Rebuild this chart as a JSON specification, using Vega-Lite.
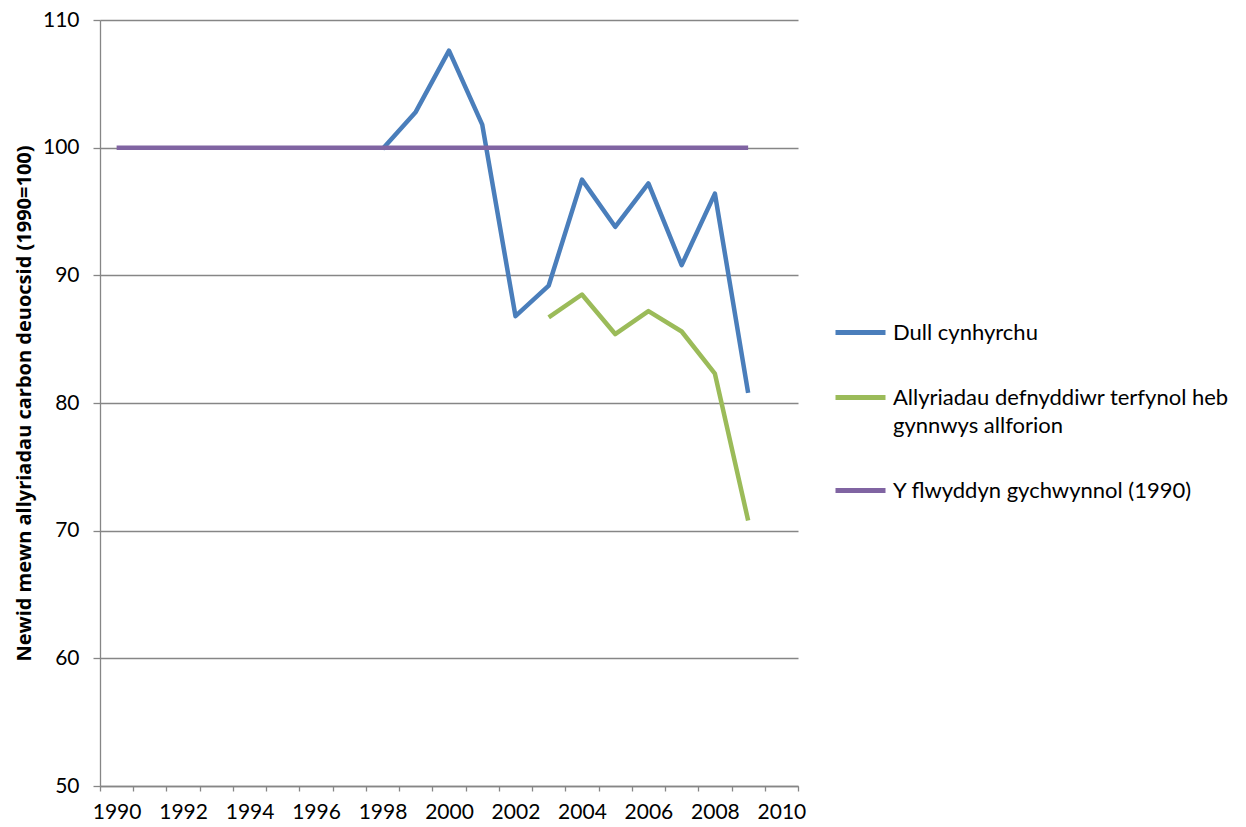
{
  "$schema": "https://vega.github.io/schema/vega-lite/v6.json",
  "width": 698,
  "height": 766,
  "autosize": {"type": "none"},
  "padding": {"left": 100, "top": 20, "right": 448, "bottom": 41},
  "background": "white",
  "config": {"view": {"stroke": null}, "font": "Lato", "style": {"guide-label": {"lineHeight": 28}}},
  "data": {
    "values": [
      {"year": 1998, "series": "Dull cynhyrchu", "value": 99.9},
      {"year": 1999, "series": "Dull cynhyrchu", "value": 102.8},
      {"year": 2000, "series": "Dull cynhyrchu", "value": 107.6},
      {"year": 2001, "series": "Dull cynhyrchu", "value": 101.8},
      {"year": 2002, "series": "Dull cynhyrchu", "value": 86.8},
      {"year": 2003, "series": "Dull cynhyrchu", "value": 89.2},
      {"year": 2004, "series": "Dull cynhyrchu", "value": 97.5},
      {"year": 2005, "series": "Dull cynhyrchu", "value": 93.8},
      {"year": 2006, "series": "Dull cynhyrchu", "value": 97.2},
      {"year": 2007, "series": "Dull cynhyrchu", "value": 90.8},
      {"year": 2008, "series": "Dull cynhyrchu", "value": 96.4},
      {"year": 2009, "series": "Dull cynhyrchu", "value": 80.8},
      {"year": 2003, "series": "Allyriadau defnyddiwr terfynol heb gynnwys allforion", "value": 86.7},
      {"year": 2004, "series": "Allyriadau defnyddiwr terfynol heb gynnwys allforion", "value": 88.5},
      {"year": 2005, "series": "Allyriadau defnyddiwr terfynol heb gynnwys allforion", "value": 85.4},
      {"year": 2006, "series": "Allyriadau defnyddiwr terfynol heb gynnwys allforion", "value": 87.2},
      {"year": 2007, "series": "Allyriadau defnyddiwr terfynol heb gynnwys allforion", "value": 85.6},
      {"year": 2008, "series": "Allyriadau defnyddiwr terfynol heb gynnwys allforion", "value": 82.3},
      {"year": 2009, "series": "Allyriadau defnyddiwr terfynol heb gynnwys allforion", "value": 70.8},
      {"year": 1990, "series": "Y flwyddyn gychwynnol (1990)", "value": 100},
      {"year": 1991, "series": "Y flwyddyn gychwynnol (1990)", "value": 100},
      {"year": 1992, "series": "Y flwyddyn gychwynnol (1990)", "value": 100},
      {"year": 1993, "series": "Y flwyddyn gychwynnol (1990)", "value": 100},
      {"year": 1994, "series": "Y flwyddyn gychwynnol (1990)", "value": 100},
      {"year": 1995, "series": "Y flwyddyn gychwynnol (1990)", "value": 100},
      {"year": 1996, "series": "Y flwyddyn gychwynnol (1990)", "value": 100},
      {"year": 1997, "series": "Y flwyddyn gychwynnol (1990)", "value": 100},
      {"year": 1998, "series": "Y flwyddyn gychwynnol (1990)", "value": 100},
      {"year": 1999, "series": "Y flwyddyn gychwynnol (1990)", "value": 100},
      {"year": 2000, "series": "Y flwyddyn gychwynnol (1990)", "value": 100},
      {"year": 2001, "series": "Y flwyddyn gychwynnol (1990)", "value": 100},
      {"year": 2002, "series": "Y flwyddyn gychwynnol (1990)", "value": 100},
      {"year": 2003, "series": "Y flwyddyn gychwynnol (1990)", "value": 100},
      {"year": 2004, "series": "Y flwyddyn gychwynnol (1990)", "value": 100},
      {"year": 2005, "series": "Y flwyddyn gychwynnol (1990)", "value": 100},
      {"year": 2006, "series": "Y flwyddyn gychwynnol (1990)", "value": 100},
      {"year": 2007, "series": "Y flwyddyn gychwynnol (1990)", "value": 100},
      {"year": 2008, "series": "Y flwyddyn gychwynnol (1990)", "value": 100},
      {"year": 2009, "series": "Y flwyddyn gychwynnol (1990)", "value": 100}
    ]
  },
  "mark": {"type": "line", "strokeWidth": 4.5, "strokeJoin": "round"},
  "encoding": {
    "x": {
      "field": "year",
      "type": "quantitative",
      "scale": {"domain": [1989.5, 2010.5], "nice": false, "zero": false},
      "axis": {
        "title": null,
        "grid": false,
        "values": [1989.5, 1990, 1990.5, 1991, 1991.5, 1992, 1992.5, 1993, 1993.5, 1994, 1994.5, 1995, 1995.5, 1996, 1996.5, 1997, 1997.5, 1998, 1998.5, 1999, 1999.5, 2000, 2000.5, 2001, 2001.5, 2002, 2002.5, 2003, 2003.5, 2004, 2004.5, 2005, 2005.5, 2006, 2006.5, 2007, 2007.5, 2008, 2008.5, 2009, 2009.5, 2010, 2010.5],
        "labelExpr": "datum.value % 2 == 0 ? toString(datum.value) : ''",
        "tickOpacity": {"condition": {"test": "datum.value % 1 == 0", "value": 0}, "value": 1},
        "labelOverlap": false,
        "labelBound": false,
        "labelFlush": false,
        "labelFont": "Lato",
        "labelFontSize": 21,
        "labelColor": "#000000",
        "labelPadding": 10,
        "tickSize": 5,
        "tickColor": "#868686",
        "domainColor": "#868686",
        "domainWidth": 1.3,
        "tickWidth": 1.3
      }
    },
    "y": {
      "field": "value",
      "type": "quantitative",
      "scale": {"domain": [50, 110], "nice": false, "zero": false},
      "axis": {
        "title": "Newid mewn allyriadau carbon deuocsid (1990=100)",
        "titleFont": "Open Sans",
        "titleFontSize": 20,
        "titleFontWeight": "bold",
        "titleColor": "#000000",
        "titlePadding": 8,
        "values": [50, 60, 70, 80, 90, 100, 110],
        "grid": true,
        "gridColor": "#868686",
        "gridWidth": 1.3,
        "labelFont": "Lato",
        "labelFontSize": 21,
        "labelColor": "#000000",
        "labelPadding": 14,
        "tickSize": 7,
        "tickColor": "#868686",
        "tickWidth": 1.3,
        "domainColor": "#868686",
        "domainWidth": 1.3
      }
    },
    "color": {
      "field": "series",
      "type": "nominal",
      "sort": null,
      "scale": {
        "domain": ["Dull cynhyrchu", "Allyriadau defnyddiwr terfynol heb gynnwys allforion", "Y flwyddyn gychwynnol (1990)"],
        "range": ["#4a7ebb", "#9bbb59", "#8064a2"]
      },
      "legend": {
        "title": null,
        "orient": "none",
        "legendX": 733,
        "legendY": 285,
        "symbolType": "stroke",
        "symbolSize": 2500,
        "symbolStrokeWidth": 5,
        "labelFont": "Lato",
        "labelFontSize": 22,
        "labelColor": "#000000",
        "labelOffset": 5,
        "labelLimit": 0,
        "rowPadding": 26,
        "padding": 0,
        "labelExpr": "datum.label == 'Allyriadau defnyddiwr terfynol heb gynnwys allforion' ? ['Allyriadau defnyddiwr terfynol heb', 'gynnwys allforion'] : datum.label"
      }
    }
  }
}
